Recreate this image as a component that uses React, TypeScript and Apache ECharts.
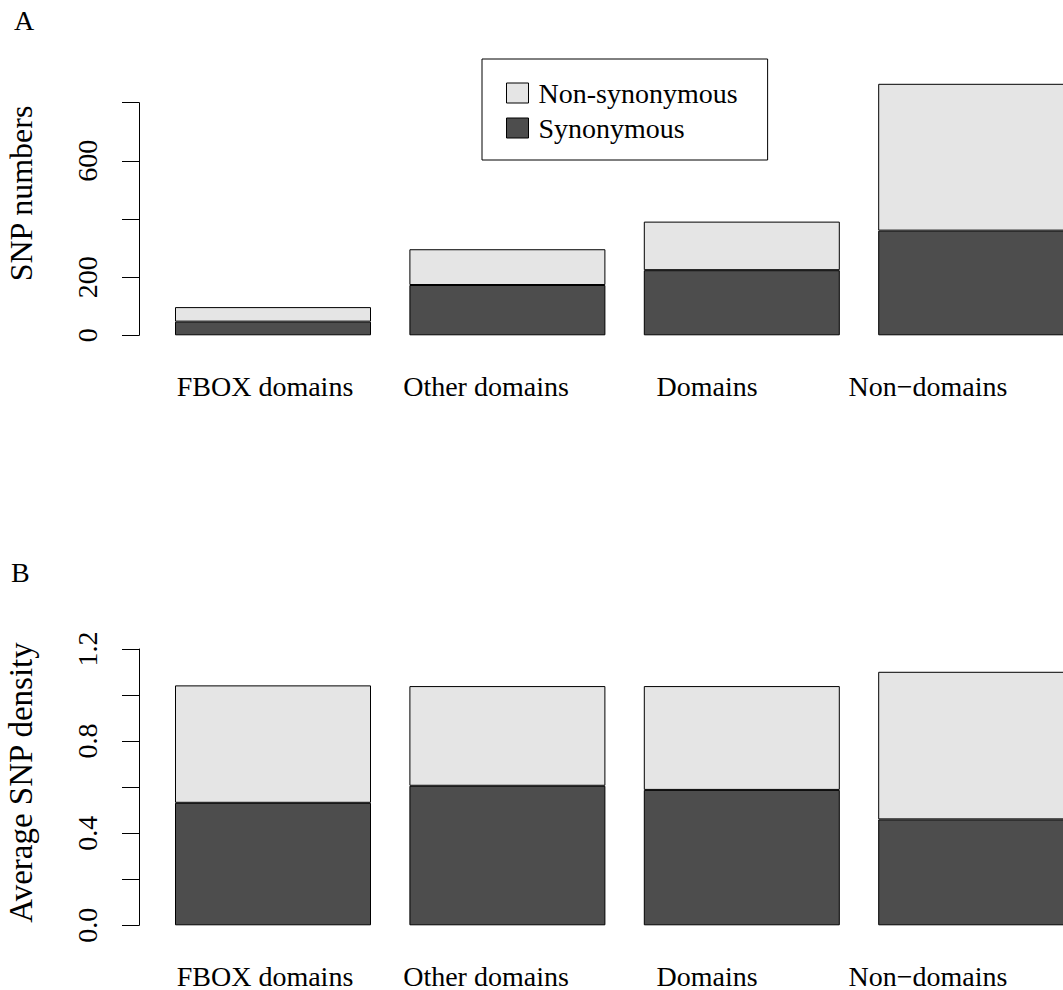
import React, { useEffect, useRef } from "react";
import * as echarts from "echarts";

const categories = ["FBOX domains", "Other domains", "Domains", "Non\u2212domains"];

// Panel A: SNP numbers
const countSynonymous = [47, 173, 224, 360];
const countNonSynonymous = [50, 123, 167, 505];
const countTicksShown = [0, 200, 600];

// Panel B: Average SNP density
const densitySynonymous = [0.532, 0.606, 0.588, 0.46];
const densityNonSynonymous = [0.51, 0.433, 0.451, 0.641];
const densityTicksShown = [0, 0.4, 0.8, 1.2];

const seriesNames = ["Non-synonymous", "Synonymous"];
const LIGHT = "#E5E5E5";
const DARK = "#4D4D4D";
const FONT = "Liberation Serif";

export default function App() {
  const ref = useRef<HTMLDivElement>(null);
  useEffect(() => {
    if (!ref.current) return;
    const chart = echarts.init(ref.current, null, { renderer: "svg" });
    const gridLeft = 155.8;
    const gridWidth = 937.6;
    const labelLeft = 154.5;
    const labelWidth = 884;
    const yOffset = gridLeft - 139;

    const xAxisBars = {
      type: "category",
      data: categories,
      axisLine: { show: false },
      axisTick: { show: false },
      axisLabel: { show: false },
    };
    const xAxisLabels = {
      type: "category",
      data: categories,
      axisLine: { show: false },
      axisTick: { show: false },
      axisLabel: { fontFamily: FONT, fontSize: 28, color: "#000", margin: 37, interval: 0 },
    };
    const yAxisBase = {
      type: "value",
      offset: yOffset,
      splitLine: { show: false },
      axisLine: { show: true, lineStyle: { color: "#000", width: 1 } },
      axisTick: { show: true, length: 17, lineStyle: { color: "#000", width: 1 } },
    };
    const barBase = {
      type: "bar",
      barWidth: 196,
      clip: false,
      itemStyle: { borderColor: "#000", borderWidth: 1 },
    };

    chart.setOption({
      animation: false,
      backgroundColor: "#fff",
      grid: [
        { left: gridLeft, width: gridWidth, top: 102.7, height: 232.6 },
        { left: gridLeft, width: gridWidth, top: 649, height: 276.3 },
        { left: labelLeft, width: labelWidth, top: 102.7, height: 232.6 },
        { left: labelLeft, width: labelWidth, top: 649, height: 276.3 },
      ],
      xAxis: [
        { ...xAxisBars, gridIndex: 0 },
        { ...xAxisBars, gridIndex: 1 },
        { ...xAxisLabels, gridIndex: 2 },
        { ...xAxisLabels, gridIndex: 3 },
      ],
      yAxis: [
        {
          ...yAxisBase,
          gridIndex: 0,
          min: 0,
          max: 800,
          interval: 200,
          axisLabel: {
            rotate: 90,
            fontFamily: FONT,
            fontSize: 28,
            color: "#000",
            margin: 38,
            showMaxLabel: true,
            formatter: (v: number) => (countTicksShown.includes(v) ? String(v) : ""),
          },
        },
        {
          ...yAxisBase,
          gridIndex: 1,
          min: 0,
          max: 1.2,
          interval: 0.2,
          axisLabel: {
            rotate: 90,
            fontFamily: FONT,
            fontSize: 28,
            color: "#000",
            margin: 38,
            showMaxLabel: true,
            formatter: (v: number) =>
              densityTicksShown.some((t) => Math.abs(t - v) < 1e-9) ? v.toFixed(1) : "",
          },
        },
        { type: "value", gridIndex: 2, show: false, min: 0, max: 800 },
        { type: "value", gridIndex: 3, show: false, min: 0, max: 1.2 },
      ],
      legend: {
        data: seriesNames,
        orient: "vertical",
        left: 482,
        top: 59,
        itemWidth: 22,
        itemHeight: 20,
        itemGap: 7,
        padding: [20, 30, 18, 24],
        borderColor: "#000",
        borderWidth: 1,
        backgroundColor: "#fff",
        selectedMode: false,
        icon: "rect",
        itemStyle: { borderColor: "#000", borderWidth: 1 },
        textStyle: { fontFamily: FONT, fontSize: 28, color: "#000", lineHeight: 28, padding: [0, 0, 0, 5] },
      },
      series: [
        { ...barBase, name: "Synonymous", stack: "a", xAxisIndex: 0, yAxisIndex: 0, data: countSynonymous, itemStyle: { ...barBase.itemStyle, color: DARK } },
        { ...barBase, name: "Non-synonymous", stack: "a", xAxisIndex: 0, yAxisIndex: 0, data: countNonSynonymous, itemStyle: { ...barBase.itemStyle, color: LIGHT } },
        { ...barBase, name: "Synonymous", stack: "b", xAxisIndex: 1, yAxisIndex: 1, data: densitySynonymous, itemStyle: { ...barBase.itemStyle, color: DARK } },
        { ...barBase, name: "Non-synonymous", stack: "b", xAxisIndex: 1, yAxisIndex: 1, data: densityNonSynonymous, itemStyle: { ...barBase.itemStyle, color: LIGHT } },
      ],
      graphic: [
        { type: "text", left: 14, top: 6, style: { text: "A", fontFamily: FONT, fontSize: 28, fill: "#000" } },
        { type: "text", left: 11, top: 558, style: { text: "B", fontFamily: FONT, fontSize: 28, fill: "#000" } },
        {
          type: "text",
          x: 21,
          y: 193.5,
          rotation: Math.PI / 2,
          style: { text: "SNP numbers", fontFamily: FONT, fontSize: 32, fill: "#000", align: "center", verticalAlign: "middle" },
        },
        {
          type: "text",
          x: 21,
          y: 782.5,
          rotation: Math.PI / 2,
          style: { text: "Average SNP density", fontFamily: FONT, fontSize: 33, fill: "#000", align: "center", verticalAlign: "middle" },
        },
      ],
    });
    return () => chart.dispose();
  }, []);
  return (
    <div style={{ position: "absolute", left: 0, top: 0, width: 1063, height: 990, overflow: "hidden" }}>
      <div ref={ref} style={{ width: 1120, height: 990 }} />
    </div>
  );
}
